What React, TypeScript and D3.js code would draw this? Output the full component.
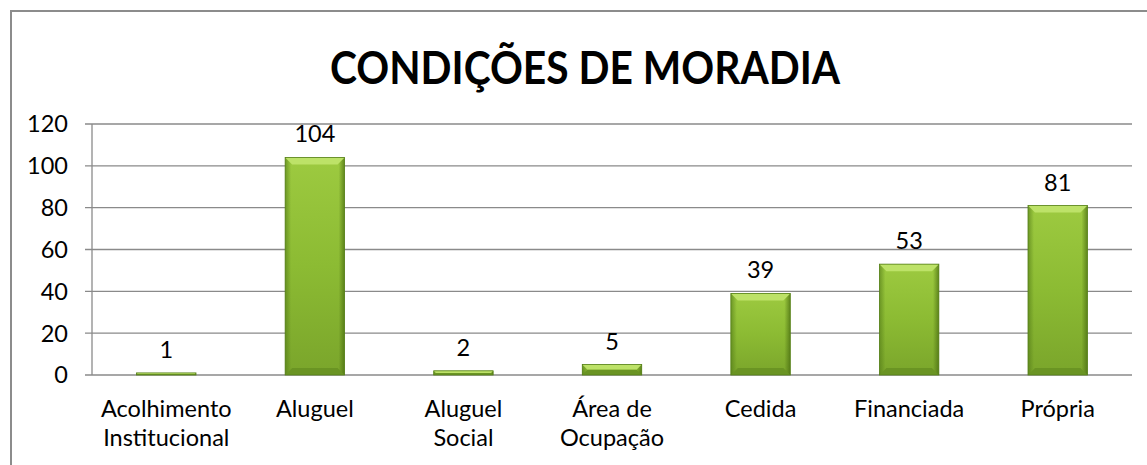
import React from "react";
import * as d3 from "d3";

const categories: string[][] = [
  ["Acolhimento", "Institucional"],
  ["Aluguel"],
  ["Aluguel", "Social"],
  ["Área de", "Ocupação"],
  ["Cedida"],
  ["Financiada"],
  ["Própria"],
];
const values: number[] = [1, 104, 2, 5, 39, 53, 81];
const yTicks: number[] = [0, 20, 40, 60, 80, 100, 120];
const title = "CONDIÇÕES DE MORADIA";

const W = 1147;
const H = 465;
const FONT = "Lato, 'Open Sans', sans-serif";
const FS = 23.5;

export default function App() {
  const keys = categories.map((_, i) => String(i));
  const x = d3.scaleBand<string>().domain(keys).range([92, 1132]).paddingInner(0.6).paddingOuter(0.3);
  const y = d3.scaleLinear().domain([0, 120]).range([375, 124]);
  const bw = x.bandwidth();
  const bev = 7;

  return (
    <svg width={W} height={H} style={{ position: "absolute", left: 0, top: 0, background: "#fff" }}>
      <defs>
        <linearGradient id="barV" x1="0" y1="0" x2="0" y2="1">
          <stop offset="0" stopColor="#9DCA40" />
          <stop offset="0.5" stopColor="#8CBB33" />
          <stop offset="1" stopColor="#7AA52B" />
        </linearGradient>
        <linearGradient id="barH" x1="0" y1="0" x2="1" y2="0">
          <stop offset="0" stopColor="#4F7716" stopOpacity="0.6" />
          <stop offset="0.1" stopColor="#4F7716" stopOpacity="0" />
          <stop offset="0.9" stopColor="#46690F" stopOpacity="0" />
          <stop offset="1" stopColor="#46690F" stopOpacity="0.7" />
        </linearGradient>
      </defs>
      <rect x={11} y={11} width={W} height={H} fill="#fff" stroke="#8c8c8c" strokeWidth={2} />
      <text
        x={585}
        y={84}
        textAnchor="middle"
        fontFamily={FONT}
        fontWeight="bold"
        fontSize={45}
        textLength={510}
        lengthAdjust="spacingAndGlyphs"
        fill="#000"
      >
        {title}
      </text>
      {yTicks.map((t) => (
        <g key={t}>
          <line x1={85} x2={1132} y1={y(t)} y2={y(t)} stroke="#8a8a8a" strokeWidth={1.3} />
          <text x={68} y={y(t)} dy="0.36em" textAnchor="end" fontFamily={FONT} fontSize={FS} fill="#000">
            {t}
          </text>
        </g>
      ))}
      <line x1={92} x2={92} y1={y(120)} y2={y(0)} stroke="#8a8a8a" strokeWidth={1.3} />
      {values.map((v, i) => {
        const x0 = x(String(i))!;
        const y0 = y(v);
        const h = y(0) - y0;
        const b = Math.min(bev, h / 2);
        return (
          <g key={i}>
            <rect x={x0} y={y0} width={bw} height={h} fill="url(#barV)" />
            <rect x={x0} y={y0} width={bw} height={h} fill="url(#barH)" />
            <polygon
              points={`${x0},${y0} ${x0 + bw},${y0} ${x0 + bw - b},${y0 + b} ${x0 + b},${y0 + b}`}
              fill="#BDE268"
            />
            <polygon
              points={`${x0},${y0 + h} ${x0 + bw},${y0 + h} ${x0 + bw - b},${y0 + h - b} ${x0 + b},${y0 + h - b}`}
              fill="#6A9423"
            />
            <rect x={x0} y={y0} width={bw} height={h} fill="none" stroke="#557F18" strokeWidth={0.8} />
            <text x={x0 + bw / 2} y={y0 - 15} textAnchor="middle" fontFamily={FONT} fontSize={FS} fill="#000">
              {v}
            </text>
          </g>
        );
      })}
      {categories.map((lines, i) => {
        const cx = x(String(i))! + bw / 2;
        return (
          <text key={i} textAnchor="middle" fontFamily={FONT} fontSize={FS} fill="#000">
            {lines.map((l, j) => (
              <tspan key={j} x={cx} y={417 + j * 29}>
                {l}
              </tspan>
            ))}
          </text>
        );
      })}
    </svg>
  );
}
